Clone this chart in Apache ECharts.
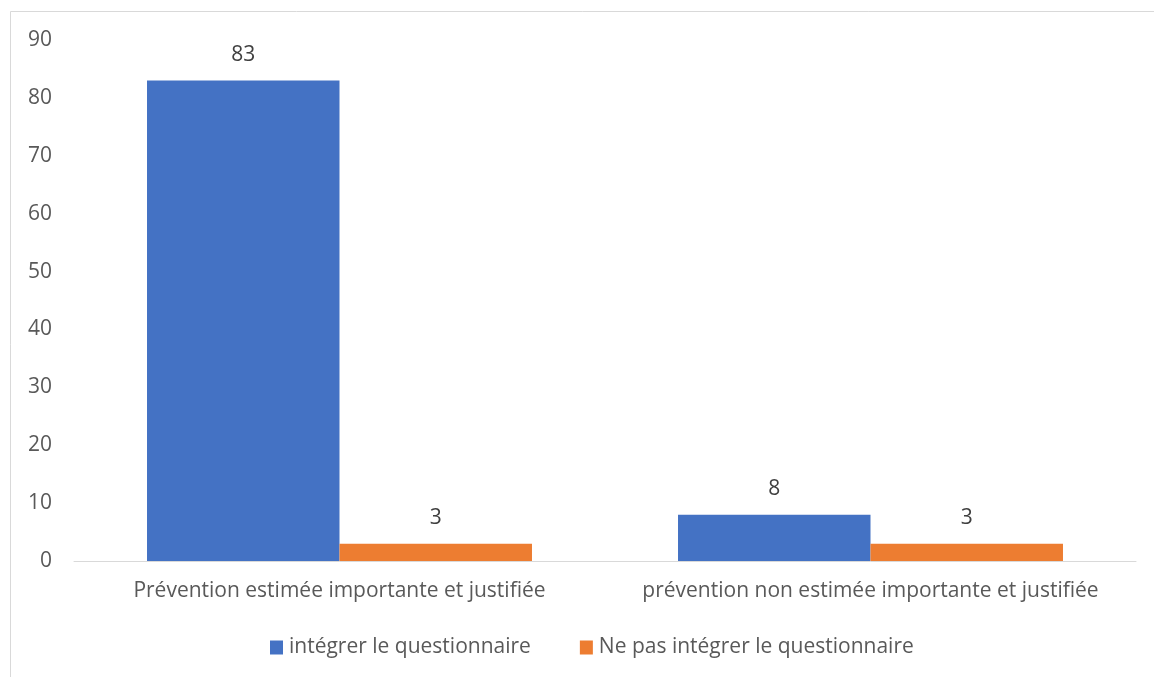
<!DOCTYPE html>
<html>
<head>
<meta charset="utf-8">
<script src="https://cdn.jsdelivr.net/npm/echarts@6/dist/echarts.min.js"></script>
<style>
  html, body { margin: 0; padding: 0; background: #fff; }
  #chart { width: 1154px; height: 677px; }
</style>
</head>
<body>
<div id="chart"></div>
<script>
// Categories and series values
const categories = [
  'Prévention estimée importante et justifiée',
  'prévention non estimée importante et justifiée'
];
const seriesNames = ['intégrer le questionnaire', 'Ne pas intégrer le questionnaire'];
const integrer = [83, 8];
const nePasIntegrer = [3, 3];
const yTicks = { min: 0, max: 90, interval: 10 };

const FONT = 'Open Sans';
const FS = 21;
const chart = echarts.init(document.getElementById('chart'), null, { renderer: 'canvas' });

chart.setOption({
  backgroundColor: '#ffffff',
  textStyle: { fontFamily: FONT },
  animation: false,
  graphic: [{
    type: 'rect',
    shape: { x: 10.5, y: 11.5, width: 1300, height: 800 },
    style: { fill: 'none', stroke: '#d9d9d9', lineWidth: 1 },
    silent: true
  }],
  grid: { left: 74, right: 18, top: 40, bottom: 116 },
  legend: {
    top: 637,
    left: 270,
    padding: 0,
    itemWidth: 13,
    itemHeight: 14,
    itemGap: 49,
    icon: 'rect',
    textStyle: { fontFamily: FONT, fontSize: FS, color: '#595959', padding: [0, 0, 0, 1] },
    data: seriesNames
  },
  xAxis: {
    type: 'category',
    data: categories,
    axisLine: { show: true, lineStyle: { color: '#d9d9d9', width: 1 } },
    axisTick: { show: false },
    axisLabel: {
      interval: 0,
      hideOverlap: false,
      fontFamily: FONT, fontSize: FS, color: '#595959', margin: 20
    }
  },
  yAxis: {
    type: 'value',
    min: yTicks.min,
    max: yTicks.max,
    interval: yTicks.interval,
    axisLine: { show: false },
    axisTick: { show: false },
    splitLine: { show: false },
    axisLabel: { fontFamily: FONT, fontSize: FS, color: '#595959', margin: 22 }
  },
  series: [
    {
      name: seriesNames[0],
      type: 'bar',
      data: integrer,
      barGap: '0%',
      barCategoryGap: '27.5%',
      itemStyle: { color: '#4472c4' },
      label: { show: true, position: 'top', distance: 15, fontFamily: FONT, fontSize: FS, color: '#404040' }
    },
    {
      name: seriesNames[1],
      type: 'bar',
      data: nePasIntegrer,
      barGap: '0%',
      barCategoryGap: '27.5%',
      itemStyle: { color: '#ed7d31' },
      label: { show: true, position: 'top', distance: 15, fontFamily: FONT, fontSize: FS, color: '#404040' }
    }
  ]
});
</script>
</body>
</html>
